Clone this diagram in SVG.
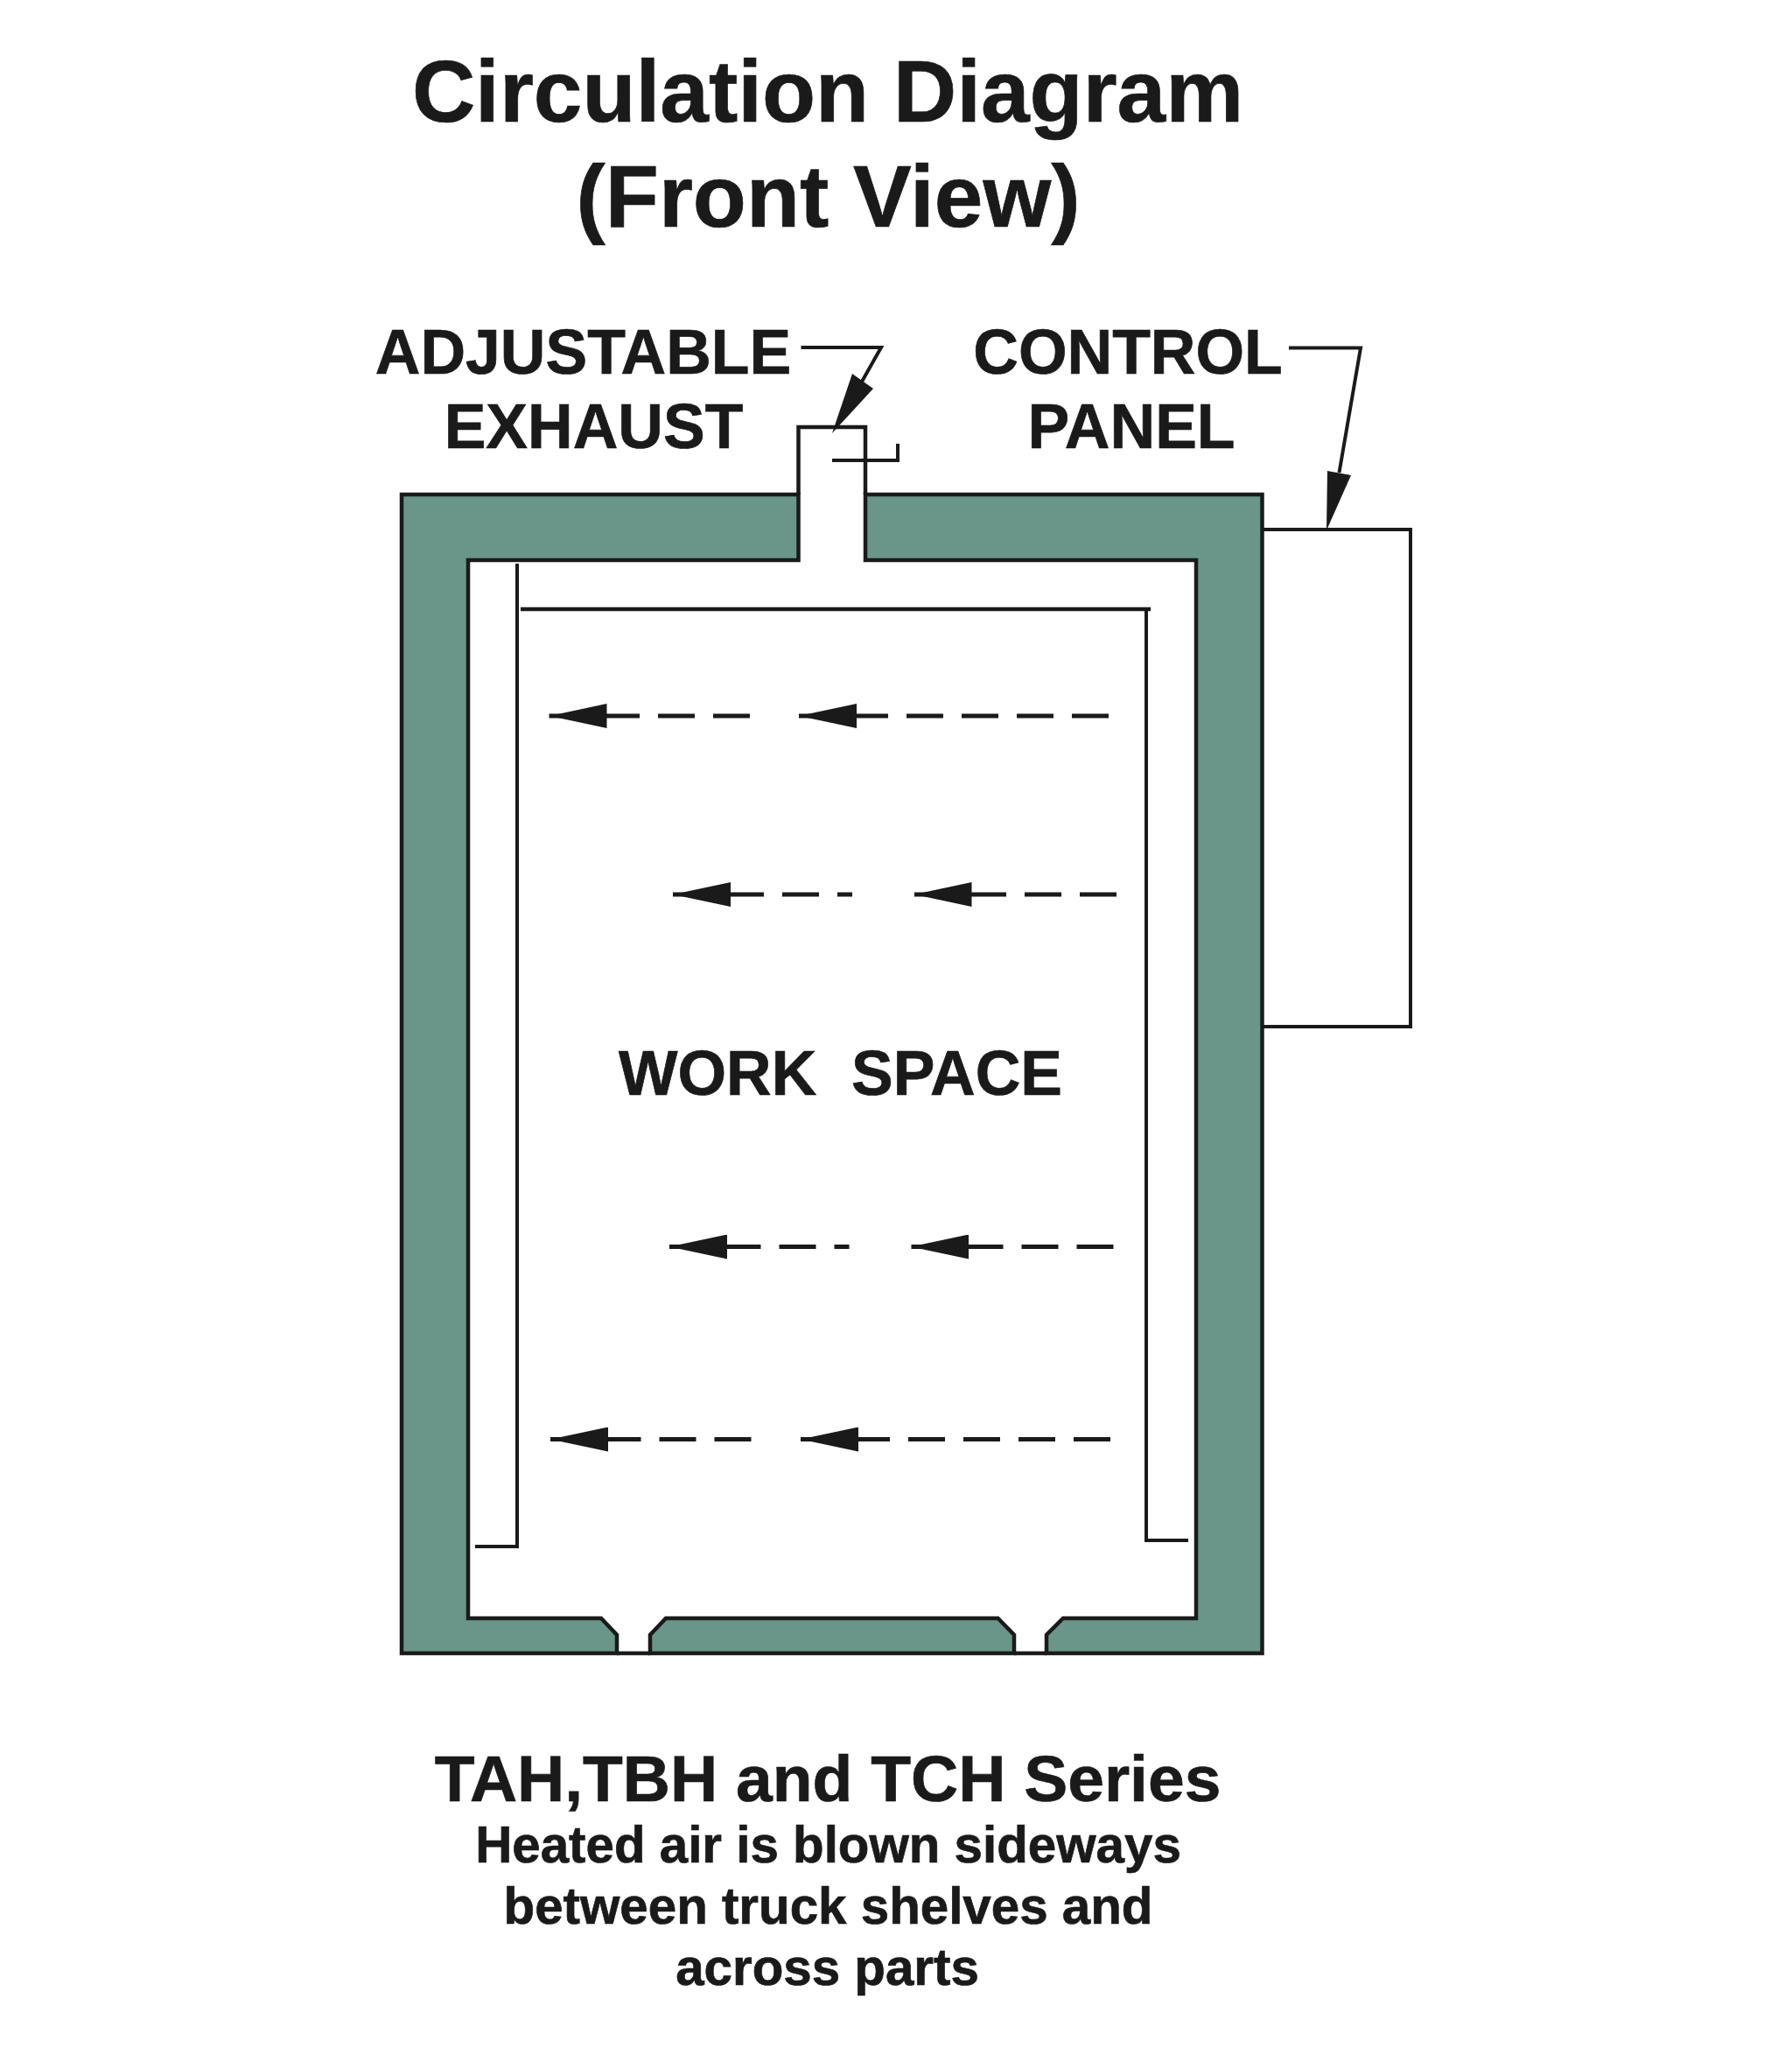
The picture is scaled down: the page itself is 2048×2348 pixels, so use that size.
<svg xmlns="http://www.w3.org/2000/svg" width="2048" height="2348" viewBox="0 0 2048 2348">
<style>
.t{font-family:"Liberation Sans",Arial,sans-serif;font-weight:700;fill:#1a1a1a;stroke:#1a1a1a;stroke-width:.7;text-anchor:middle;white-space:pre}
.title{font-size:100px}
.label{font-size:71.500px}
.series{font-size:75px}
.desc{font-size:58.300px}
.wall{fill:#6a9589;stroke:#1a1a1a;stroke-width:4.500;stroke-linejoin:miter}
.ln{fill:none;stroke:#1a1a1a;stroke-width:4.500}
.thin{fill:none;stroke:#1a1a1a;stroke-width:4}
.flow{stroke:#1a1a1a;stroke-width:5;stroke-dasharray:42 21;marker-end:url(#head)}
.hd{fill:#1a1a1a}
</style>
<defs>
<marker id="head" markerUnits="userSpaceOnUse" markerWidth="66" markerHeight="28" viewBox="0 0 66 28" refX="66" refY="14" orient="auto">
<polygon points="0,0 66,14 0,28" fill="#1a1a1a"/>
</marker>
</defs>
<rect width="2048" height="2348" fill="#fff"/>
<g id="title">
<text class="t title" x="946" y="139">Circulation Diagram</text>
<text class="t title" x="946.500" y="259">(Front View)</text>
</g>
<g id="cabinet">
<path class="wall" d="M459 1889V565H912.500V640H535V1849H687L705 1868V1889Z"/>
<path class="wall" d="M743 1889V1868L761 1849H1140.500L1159 1868V1889Z"/>
<path class="wall" d="M1196 1889V1868L1215 1849H1367V640H989V565H1442.500V1889Z"/>
<path class="ln" d="M705 1889H743M1159 1889H1196"/>
</g>
<g id="adjustable-exhaust">
<path class="ln" d="M912.500 565V488H989V565"/>
<path class="thin" d="M951 526H1026V507"/>
<text class="t label" x="666.500" y="427">ADJUSTABLE</text>
<text class="t label" x="678.500" y="512">EXHAUST</text>
</g>
<g id="control-panel">
<path class="thin" d="M1443 605H1612V1173H1443"/>
<text class="t label" x="1289" y="427">CONTROL</text>
<text class="t label" x="1293" y="512">PANEL</text>
</g>
<g id="work-space">
<path class="thin" d="M591 644V1767H543"/>
<path class="ln" d="M595 696H1315"/>
<path class="thin" d="M1310 696V1760H1358"/>
<text class="t label" x="960.500" y="1251" xml:space="preserve">WORK  SPACE</text>
</g>
<g id="connectors">
<path class="thin" d="M915.500 397H1007L985 436"/>
<polygon class="hd" points="974,427 998,444 951,495"/>
<path class="thin" d="M1473 397.500H1555L1530.500 540"/>
<polygon class="hd" points="1517,538 1544,543 1516,606"/>
<line class="flow" x1="857" y1="818" x2="627.500" y2="818"/>
<line class="flow" x1="1267" y1="818" x2="913" y2="818"/>
<line class="flow" x1="974" y1="1022" x2="769" y2="1022" stroke-dashoffset="25"/>
<line class="flow" x1="1276" y1="1022" x2="1044.500" y2="1022"/>
<line class="flow" x1="970.500" y1="1424.500" x2="765" y2="1424.500" stroke-dashoffset="25"/>
<line class="flow" x1="1272.500" y1="1424.500" x2="1041" y2="1424.500"/>
<line class="flow" x1="858.500" y1="1644.500" x2="629" y2="1644.500"/>
<line class="flow" x1="1269" y1="1644.500" x2="915" y2="1644.500"/>
</g>
<g id="caption">
<text class="t series" x="946" y="2058">TAH,TBH and TCH Series</text>
<text class="t desc" x="946.500" y="2128">Heated air is blown sideways</text>
<text class="t desc" x="946.500" y="2198">between truck shelves and</text>
<text class="t desc" x="945.500" y="2268">across parts</text>
</g>
</svg>
